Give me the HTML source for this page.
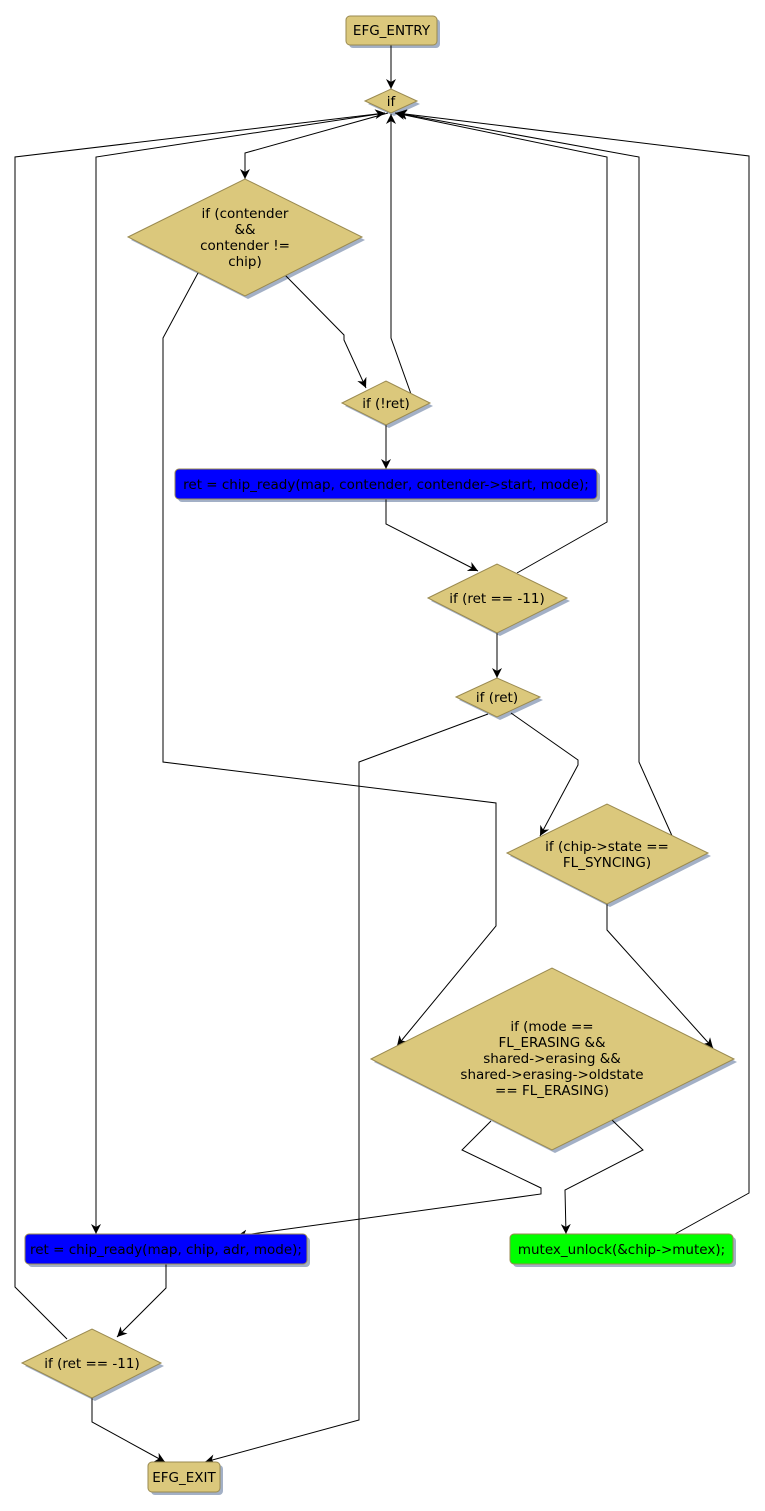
<!DOCTYPE html>
<html><head><meta charset="utf-8"><style>
body{margin:0;background:#fff}
svg{display:block}
text{font-family:"DejaVu Sans","Liberation Sans",sans-serif;font-size:13.5px;fill:#000}
.n{fill:#dbc87c;stroke:#9a8a50;stroke-width:1}
.s{fill:#a3b0c6}
.e{fill:none;stroke:#000;stroke-width:1}
</style></head><body>
<svg width="765" height="1511" viewBox="0 0 765 1511" xmlns="http://www.w3.org/2000/svg">
<defs><marker id="a" viewBox="0 0 10 10" refX="10" refY="5" markerWidth="10" markerHeight="10" orient="auto" markerUnits="userSpaceOnUse"><path d="M0,0 L10,5 L0,10 L3,5 z" fill="#000"/></marker></defs>

<rect class="s" x="349" y="19" width="91" height="29" rx="4"/>
<polygon class="s" points="368,104 394,92 420,104 394,116"/>
<polygon class="s" points="131,240 248,182 365,240 248,299"/>
<polygon class="s" points="345,406 389,384 433,406 389,428"/>
<rect class="s" x="178" y="472" width="422" height="30" rx="4"/>
<polygon class="s" points="431,601 500,567 570,601 500,636"/>
<polygon class="s" points="459,700 500,681 543,700 500,720"/>
<polygon class="s" points="510,856 610,807 711,856 610,907"/>
<polygon class="s" points="374,1062 555,971 737,1062 555,1153"/>
<rect class="s" x="28" y="1237" width="282" height="30" rx="4"/>
<rect class="s" x="513" y="1237" width="223" height="30" rx="4"/>
<polygon class="s" points="25,1366 95,1332 164,1366 95,1401"/>
<rect class="s" x="151" y="1465" width="72" height="30" rx="4"/>

<path class="e" marker-end="url(#a)" d="M391,45 L391,89"/>
<path class="e" marker-end="url(#a)" d="M388,113 L245,153 L245,179"/>
<path class="e" marker-end="url(#a)" d="M285,275 L344,335 L344,340 L366,388"/>
<path class="e" marker-end="url(#a)" d="M198,273 L163,338 L163,762 L496,803 L496,926 L397,1046"/>
<path class="e" marker-end="url(#a)" d="M411,394 L391,338 L391,114"/>
<path class="e" marker-end="url(#a)" d="M386,425 L386,469"/>
<path class="e" marker-end="url(#a)" d="M386,499 L386,524 L478,571"/>
<path class="e" marker-end="url(#a)" d="M517,573 L607,522 L607,157 L395,113"/>
<path class="e" marker-end="url(#a)" d="M497,633 L497,678"/>
<path class="e" marker-end="url(#a)" d="M488,714 L359,762 L359,1420 L205,1462"/>
<path class="e" marker-end="url(#a)" d="M511,713 L578,760 L578,765 L540,836"/>
<path class="e" marker-end="url(#a)" d="M673,838 L639,762 L639,157 L397,113"/>
<path class="e" marker-end="url(#a)" d="M607,904 L607,930 L713,1048"/>
<path class="e" marker-end="url(#a)" d="M491,1121 L462,1150 L541,1188 L541,1194 L237,1236"/>
<path class="e" marker-end="url(#a)" d="M612,1120 L643,1150 L565,1190 L566,1234"/>
<path class="e" marker-end="url(#a)" d="M675,1234 L749,1193 L749,156 L397,113"/>
<path class="e" marker-end="url(#a)" d="M166,1264 L166,1288 L117,1337"/>
<path class="e" marker-end="url(#a)" d="M67,1339 L15,1287 L15,157 L385,113"/>
<path class="e" marker-end="url(#a)" d="M385,113 L96,157 L96,1234"/>
<path class="e" marker-end="url(#a)" d="M92,1398 L92,1422 L165,1462"/>

<rect class="n" x="346" y="16" width="91" height="29" rx="4"/>
<text x="391.5" y="35" text-anchor="middle">EFG_ENTRY</text>
<polygon class="n" points="365,101 391,89 417,101 391,113"/>
<text x="391" y="106" text-anchor="middle">if</text>

<polygon class="n" points="128,237 245,179 362,237 245,296"/>
<text text-anchor="middle"><tspan x="245" y="218">if (contender</tspan><tspan x="245" y="234">&amp;&amp;</tspan><tspan x="245" y="250">contender !=</tspan><tspan x="245" y="266">chip)</tspan></text>

<polygon class="n" points="342,403 386,381 430,403 386,425"/>
<text x="386" y="408" text-anchor="middle">if (!ret)</text>

<rect x="175" y="469" width="422" height="30" rx="4" fill="#0000ff" stroke="#9a8a50"/>
<text x="386" y="489" text-anchor="middle">ret = chip_ready(map, contender, contender-&gt;start, mode);</text>

<polygon class="n" points="428,598 497,564 567,598 497,633"/>
<text x="497" y="603" text-anchor="middle">if (ret == -11)</text>

<polygon class="n" points="456,697 497,678 540,697 497,717"/>
<text x="497" y="702" text-anchor="middle">if (ret)</text>

<polygon class="n" points="507,853 607,804 708,853 607,904"/>
<text text-anchor="middle"><tspan x="607" y="851">if (chip-&gt;state ==</tspan><tspan x="607" y="867">FL_SYNCING)</tspan></text>

<polygon class="n" points="371,1059 552,968 734,1059 552,1150"/>
<text text-anchor="middle"><tspan x="552" y="1031">if (mode ==</tspan><tspan x="552" y="1047">FL_ERASING &amp;&amp;</tspan><tspan x="552" y="1063">shared-&gt;erasing &amp;&amp;</tspan><tspan x="552" y="1079">shared-&gt;erasing-&gt;oldstate</tspan><tspan x="552" y="1095">== FL_ERASING)</tspan></text>

<rect x="25" y="1234" width="282" height="30" rx="4" fill="#0000ff" stroke="#9a8a50"/>
<text x="166" y="1254" text-anchor="middle">ret = chip_ready(map, chip, adr, mode);</text>

<rect x="510" y="1234" width="223" height="30" rx="4" fill="#00ff00" stroke="#9a8a50"/>
<text x="621.5" y="1254" text-anchor="middle">mutex_unlock(&amp;chip-&gt;mutex);</text>

<polygon class="n" points="22,1363 92,1329 161,1363 92,1398"/>
<text x="92" y="1368" text-anchor="middle">if (ret == -11)</text>

<rect class="n" x="148" y="1462" width="72" height="30" rx="4"/>
<text x="184" y="1482" text-anchor="middle">EFG_EXIT</text>
</svg>
</body></html>
